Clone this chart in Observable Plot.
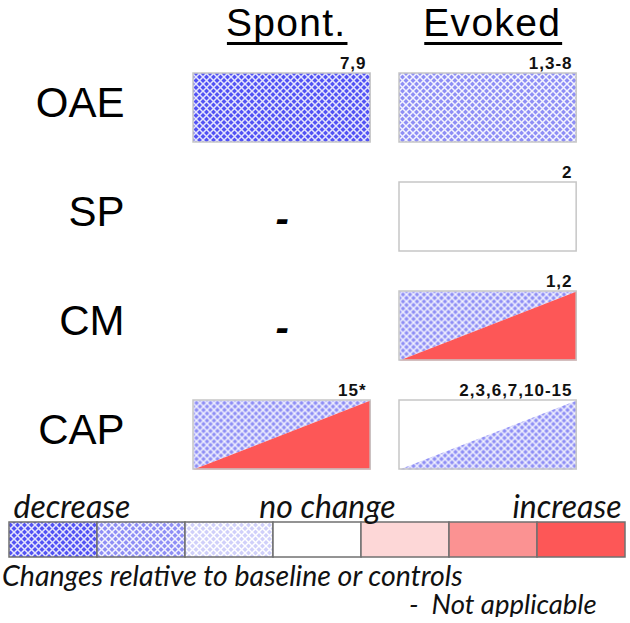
<!DOCTYPE html>
<html>
<head>
<meta charset="utf-8">
<script src="https://cdn.jsdelivr.net/npm/d3@7"></script>
<script src="https://cdn.jsdelivr.net/npm/@observablehq/plot@0.6"></script>
<style>
  html, body { margin: 0; padding: 0; background: #fff; }
  #chart svg { display: block; overflow: visible; }
  .caption { font-family: Lato, "Open Sans", sans-serif; font-style: italic; color: #111; margin: 0; }
  #cap1 { font-size: 28.5px; line-height: 30px; padding-left: 2px; }
  #cap2 { font-size: 27.5px; line-height: 27px; padding-left: 409px; white-space: pre; }
</style>
</head>
<body>
<svg width="0" height="0" style="position:absolute">
  <defs>
    <pattern id="hatch1" width="7" height="7" patternUnits="userSpaceOnUse">
      <rect width="7" height="7" fill="#d0d0fa"/>
      <path d="M0,0L7,7M7,0L0,7" stroke="#fff" stroke-width="1.5"/>
    </pattern>
    <pattern id="hatch2" width="7" height="7" patternUnits="userSpaceOnUse">
      <rect width="7" height="7" fill="#8e8ef5"/>
      <path d="M0,0L7,7M7,0L0,7" stroke="#fff" stroke-width="1.5" stroke-opacity="0.9"/>
    </pattern>
    <pattern id="hatch3" width="7" height="7" patternUnits="userSpaceOnUse">
      <rect width="7" height="7" fill="#5252f4"/>
      <path d="M0,0L7,7M7,0L0,7" stroke="#fff" stroke-width="1.5" stroke-opacity="0.85"/>
    </pattern>
  </defs>
</svg>
<div id="chart"></div>
<div class="caption" id="cap1">Changes relative to baseline or controls</div>
<div class="caption" id="cap2">-  Not applicable</div>
<script>
// ---- data ----
const rows = ["OAE", "SP", "CM", "CAP"];
const columns = ["Spont.", "Evoked"];
// change level: -3..-1 decrease, 0 no change, 1..3 increase, null = not applicable
// upper-left part and lower-right part of each cell (equal => whole cell)
const upperLevel = [[-3, -2], [null, 0], [null, -2], [-2, 0]];
const lowerLevel = [[-3, -2], [null, 0], [null, 3], [3, -2]];
const references = [["7,9", "1,3-8"], ["", "2"], ["", "1,2"], ["15*", "2,3,6,7,10-15"]];
const legendLevels = [-3, -2, -1, 0, 1, 2, 3];
const legendStart = "decrease";
const legendMiddle = "no change";
const legendEnd = "increase";
const notApplicable = "-";

// ---- styling ----
const redShades = {1: "#fdd7d7", 2: "#fb9292", 3: "#fd5757"};
const fillFor = (lv) => lv < 0 ? `url(#hatch${-lv})` : lv === 0 ? "#ffffff" : redShades[lv];
const W = 0.86, H = 0.633;   // cell size in column / row units
const sans = "'Liberation Sans', Arial, sans-serif";

// ---- derived tables ----
const cells = [];
rows.forEach((row, r) => columns.forEach((col, c) => {
  cells.push({row, col, r, c, up: upperLevel[r][c], lo: lowerLevel[r][c], ref: references[r][c]});
}));
const applicable = cells.filter(d => d.up !== null);
const whole = applicable.filter(d => d.up === d.lo);
const split = applicable.filter(d => d.up !== d.lo);
const triangles = [];
split.forEach(d => {
  const x0 = d.c, x1 = d.c + W, y0 = d.r, y1 = d.r + H;
  [[x0, y0], [x1, y0], [x0, y1]].forEach(([x, y]) => triangles.push({id: d.row + d.col + "u", x, y, fill: fillFor(d.up)}));
  [[x1, y0], [x1, y1], [x0, y1]].forEach(([x, y]) => triangles.push({id: d.row + d.col + "l", x, y, fill: fillFor(d.lo)}));
});
const na = cells.filter(d => d.up === null);

const main = Plot.plot({
  width: 630,
  height: 490,
  x: {domain: [0, 2], range: [193, 605], axis: null},
  y: {domain: [0, 4], range: [73, 509], axis: null},
  color: {type: "identity"},
  style: {fontFamily: sans, color: "#000", overflow: "visible"},
  marks: [
    Plot.rect(whole, {x1: "c", x2: d => d.c + W, y1: "r", y2: d => d.r + H, fill: d => fillFor(d.up), stroke: "#c6c6c6", strokeWidth: 1.5}),
    Plot.line(triangles, {x: "x", y: "y", z: "id", fill: "fill", stroke: "none", curve: "linear-closed"}),
    Plot.rect(split, {x1: "c", x2: d => d.c + W, y1: "r", y2: d => d.r + H, fill: "none", stroke: "#c6c6c6", strokeWidth: 1.5}),
    Plot.text(applicable, {x: d => d.c + W - 0.02, y: d => d.r - 0.045, text: "ref", textAnchor: "end", lineAnchor: "bottom", fontSize: 17, fontWeight: "bold", fill: "#111"}),
    Plot.text(na, {x: d => d.c + W / 2, y: d => d.r + H / 2 + 0.02, text: () => notApplicable, fontSize: 40, fontWeight: "bold", fontStyle: "italic", lineAnchor: "middle", fill: "#000"}),
    Plot.text(rows, {x: -0.335, y: (d, i) => i + H / 2 - 0.04, text: d => d, textAnchor: "end", lineAnchor: "middle", fontSize: 42, fill: "#000"}),
    Plot.text(columns, {x: (d, i) => i + W / 2 + 0.02, y: -0.345, text: d => d, lineAnchor: "bottom", fontSize: 39, fill: "#000"})
  ]
});

const legendFont = {frameAnchor: "top", lineAnchor: "bottom", dy: -5, fontSize: 32, fontStyle: "italic", fill: "#111"};
const legend = Plot.plot({
  width: 630,
  height: 70,
  marginTop: 32,
  marginBottom: 3,
  marginLeft: 0,
  marginRight: 0,
  x: {type: "band", domain: legendLevels, range: [7, 627], padding: 0, axis: null},
  color: {type: "identity"},
  style: {fontFamily: "Lato, 'Open Sans', sans-serif", color: "#000", overflow: "visible"},
  marks: [
    Plot.cell(legendLevels, {x: d => d, fill: d => fillFor(d), stroke: "#707070", strokeWidth: 1.5}),
    Plot.text([legendStart], {x: () => legendLevels[0], text: d => d, textAnchor: "start", dx: -40, ...legendFont}),
    Plot.text([legendMiddle], {x: () => legendLevels[3], text: d => d, textAnchor: "middle", dx: 10, ...legendFont}),
    Plot.text([legendEnd], {x: () => legendLevels[6], text: d => d, textAnchor: "end", dx: 40, ...legendFont})
  ]
});

document.getElementById("chart").append(main, legend);

// letter spacing for references and headers, underline the column headers
const refSet = new Set(references.flat().filter(Boolean));
const yUnder = main.scale("y").apply(-0.27);
const svgBox = main.getBoundingClientRect();
main.querySelectorAll("text").forEach(t => {
  const s = t.textContent;
  if (refSet.has(s)) t.style.letterSpacing = "1px";
  if (columns.includes(s)) {
    t.style.letterSpacing = "1.3px";
    const b = t.getBoundingClientRect();
    const line = document.createElementNS("http://www.w3.org/2000/svg", "line");
    line.setAttribute("x1", b.left - svgBox.left + 1);
    line.setAttribute("x2", b.right - svgBox.left + 1);
    line.setAttribute("y1", yUnder);
    line.setAttribute("y2", yUnder);
    line.setAttribute("stroke", "#000");
    line.setAttribute("stroke-width", 3);
    main.appendChild(line);
  }
});
</script>
</body>
</html>
